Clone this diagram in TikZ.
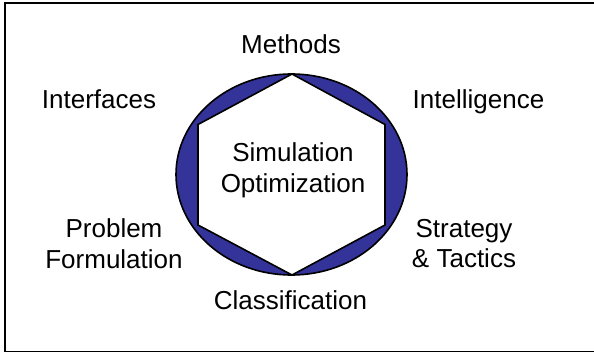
\documentclass[tikz,border=0pt]{standalone}
\usepackage{fontspec}
\setmainfont{Liberation Sans}
\usetikzlibrary{shapes.geometric}
\definecolor{ringblue}{HTML}{333399}
\begin{document}
\begin{tikzpicture}[x=1pt,y=-1pt,
  lbl/.style={anchor=base,align=center,inner sep=0pt,font=\fontsize{26}{30.5}\selectfont},
  outline/.style={draw=black,line width=1.6pt}]
\useasboundingbox (0,0) rectangle (594,353);
\draw[line width=1.8pt] (5,3) rectangle (598,351.5);
\node[ellipse,outline,fill=ringblue,minimum width=231pt,minimum height=201pt,inner sep=0pt] (ring) at (291.5,174.5) {};
\coordinate (ht) at (292,74);
\coordinate (hur) at (385,124.5);
\coordinate (hlr) at (385,225);
\coordinate (hb) at (292,275);
\coordinate (hll) at (198,225);
\coordinate (hul) at (198,124.5);
\draw[outline,fill=white,line join=miter] (ht) -- (hur) -- (hlr) -- (hb) -- (hll) -- (hul) -- cycle;
\node[lbl] (core) at (293,192) {Simulation\\Optimization};
\node[lbl] (methods) at (291,53) {Methods};
\node[lbl] (interfaces) at (99,108) {Interfaces};
\node[lbl] (intel) at (478.5,108) {Intelligence};
\node[lbl] (problem) at (114,268) {Problem\\Formulation};
\node[lbl] (strategy) at (464,267.5) {Strategy\\\& Tactics};
\node[lbl] (class) at (290.5,309.5) {Classification};
\end{tikzpicture}
\end{document}
